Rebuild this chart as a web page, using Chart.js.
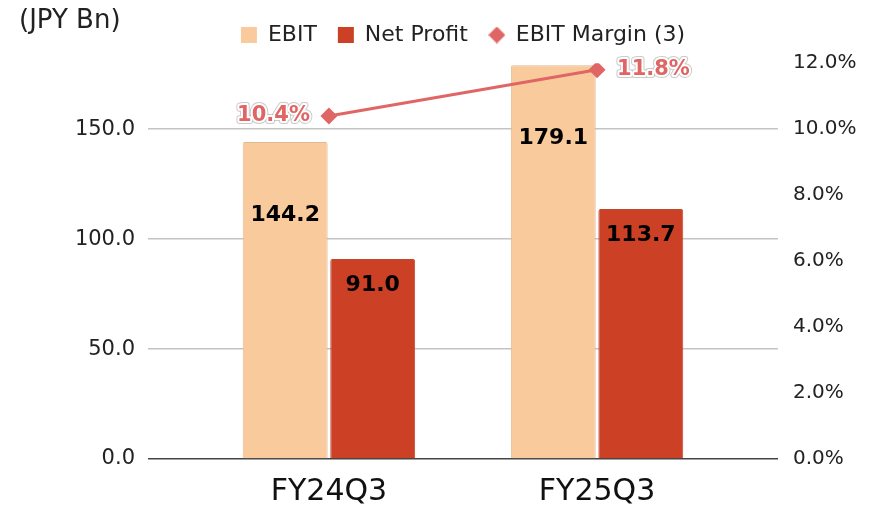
<!DOCTYPE html>
<html>
<head>
<meta charset="utf-8">
<script src="https://cdn.jsdelivr.net/npm/chart.js@4"></script>
<style>
  html, body { margin: 0; padding: 0; background: #fff; }
  #wrap { width: 870px; height: 506px; position: relative; }
</style>
</head>
<body>
<div id="wrap"><canvas id="chart"></canvas></div>
<script>
// Data
const quarters = ['FY24Q3', 'FY25Q3'];
const ebit = [144.2, 179.1];
const netProfit = [91.0, 113.7];
const ebitMargin = [10.4, 11.8];
const leftTicks = [0, 50, 100, 150];

const FONT = "'DejaVu Sans', sans-serif";

// small diamond used as the legend marker of the margin line
function diamondMarker(size, color) {
    const c = document.createElement('canvas');
    c.width = size; c.height = size;
    const g = c.getContext('2d');
    const h = size / 2;
    g.fillStyle = color;
    g.beginPath();
    g.moveTo(h, 0); g.lineTo(size, h); g.lineTo(h, size); g.lineTo(0, h);
    g.closePath();
    g.fill();
    return c;
}

// value labels on bars and on the margin line
const valueLabels = {
    id: 'valueLabels',
    afterDatasetsDraw(chart) {
        const ctx = chart.ctx;
        ctx.save();
        chart.data.datasets.forEach((ds, di) => {
            const meta = chart.getDatasetMeta(di);
            meta.data.forEach((el, i) => {
                const v = ds.data[i].y;
                if (ds.type === 'line') {
                    const txt = v.toFixed(1) + '%';
                    const left = i === 0;
                    ctx.font = 'bold 21px ' + FONT;
                    ctx.textAlign = left ? 'right' : 'left';
                    ctx.textBaseline = 'middle';
                    const x = el.x + (left ? -19 : 20);
                    ctx.lineJoin = 'round';
                    ctx.strokeStyle = 'rgba(160,160,160,0.55)';
                    ctx.lineWidth = 6;
                    ctx.strokeText(txt, x, el.y);
                    ctx.strokeStyle = '#ffffff';
                    ctx.lineWidth = 4;
                    ctx.strokeText(txt, x, el.y);
                    ctx.fillStyle = '#e06666';
                    ctx.fillText(txt, x, el.y);
                } else {
                    ctx.font = 'bold 22px ' + FONT;
                    ctx.textAlign = 'center';
                    ctx.textBaseline = 'middle';
                    ctx.fillStyle = '#000';
                    ctx.fillText(v.toFixed(1), el.x, el.y + ds.labelOffset);
                }
            });
        });
        // unit caption
        ctx.font = '26px ' + FONT;
        ctx.textAlign = 'left';
        ctx.textBaseline = 'middle';
        ctx.fillStyle = '#222';
        ctx.fillText('(JPY Bn)', 19, 21);
        ctx.restore();
    }
};

const marginMarker = diamondMarker(17, '#e06666');

new Chart(document.getElementById('chart'), {
    data: {
        datasets: [
            {
                type: 'bar',
                label: 'EBIT',
                data: ebit.map((v, i) => ({ x: i, y: v })),
                backgroundColor: '#f9cb9c',
                borderColor: '#dfb994',
                borderWidth: 1,
                borderRadius: 2,
                categoryPercentage: 0.653,
                barPercentage: 0.97,
                labelOffset: 73,
                pointStyle: 'rect',
                yAxisID: 'y',
                order: 1
            },
            {
                type: 'bar',
                label: 'Net Profit',
                data: netProfit.map((v, i) => ({ x: i, y: v })),
                backgroundColor: '#cc4125',
                borderColor: '#c0472f',
                borderWidth: 1,
                borderRadius: 2,
                categoryPercentage: 0.653,
                barPercentage: 0.97,
                labelOffset: 26,
                pointStyle: 'rect',
                yAxisID: 'y',
                order: 1
            },
            {
                type: 'line',
                label: 'EBIT Margin (3)',
                data: ebitMargin.map((v, i) => ({ x: i, y: v })),
                borderColor: '#e06666',
                backgroundColor: '#e06666',
                borderWidth: 3,
                pointStyle: 'rectRot',
                pointRadius: 8.5,
                pointBorderWidth: 0,
                yAxisID: 'y1',
                order: 0
            }
        ]
    },
    options: {
        responsive: true,
        maintainAspectRatio: false,
        animation: false,
        events: [],
        layout: { padding: { top: 3 } },
        plugins: {
            tooltip: { enabled: false },
            legend: {
                display: true,
                position: 'top',
                fullSize: false,
                labels: {
                    usePointStyle: true,
                    boxWidth: 16,
                    boxHeight: 16,
                    padding: 21,
                    color: '#222',
                    font: { family: FONT, size: 22 },
                    sort: (a, b) => a.datasetIndex - b.datasetIndex,
                    generateLabels(chart) {
                        const items = Chart.defaults.plugins.legend.labels.generateLabels(chart);
                        items.forEach(it => {
                            if (chart.data.datasets[it.datasetIndex].type === 'line') {
                                it.pointStyle = marginMarker;
                            }
                            it.lineWidth = 0;
                        });
                        return items;
                    }
                }
            },
            // empty spacer between legend and plot
            subtitle: {
                display: true,
                text: '',
                weight: 500,
                font: { size: 1 },
                padding: { top: 0, bottom: 6 }
            }
        },
        scales: {
            x: {
                type: 'linear',
                min: -0.675,
                max: 1.675,
                offset: false,
                grid: { display: false, drawTicks: false },
                border: { display: false },
                afterBuildTicks(scale) {
                    scale.ticks = quarters.map((q, i) => ({ value: i }));
                },
                afterFit(scale) { scale.height = 47; },
                ticks: {
                    autoSkip: false,
                    maxRotation: 0,
                    padding: 15,
                    color: '#111',
                    font: { family: FONT, size: 30 },
                    callback: v => quarters[v]
                }
            },
            y: {
                position: 'left',
                min: 0,
                max: 180,
                afterBuildTicks(scale) {
                    scale.ticks = leftTicks.map(v => ({ value: v }));
                },
                afterFit(scale) { scale.width = 148; },
                grid: {
                    drawTicks: false,
                    lineWidth: 1.5,
                    color: c => (c.tick && c.tick.value === 0) ? '#444' : '#c4c4c4'
                },
                border: { display: false },
                ticks: {
                    padding: 13,
                    color: '#222',
                    font: { family: FONT, size: 21 },
                    callback: v => v.toFixed(1)
                }
            },
            y1: {
                position: 'right',
                min: 0,
                max: 12,
                grid: { display: false, drawTicks: false },
                border: { display: false },
                afterFit(scale) { scale.width = 92; },
                ticks: {
                    stepSize: 2,
                    padding: 15,
                    color: '#222',
                    font: { family: FONT, size: 20 },
                    callback: v => v.toFixed(1) + '%'
                }
            }
        }
    },
    plugins: [valueLabels]
});
</script>
</body>
</html>
